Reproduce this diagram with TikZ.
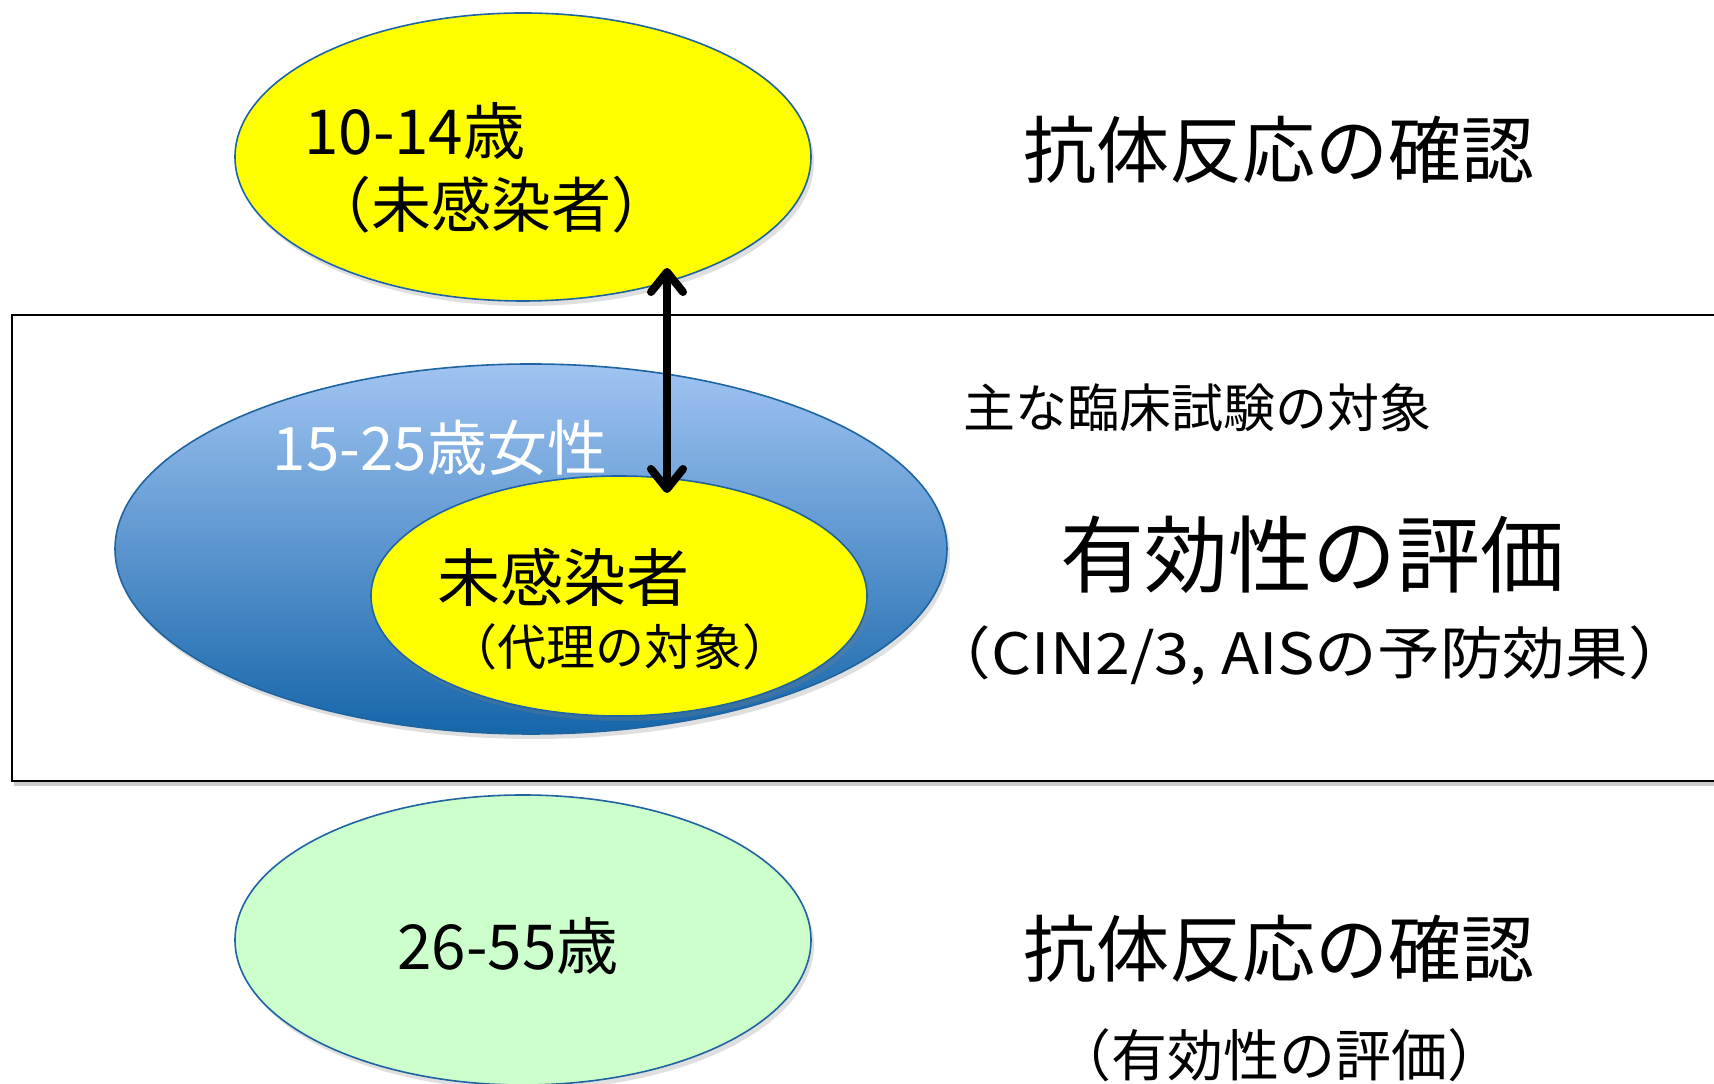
\documentclass[tikz,border=0pt]{standalone}
\usepackage{fontspec}
\setmainfont{Noto Sans CJK JP}
\usetikzlibrary{shapes.geometric,arrows.meta,shadows}
\definecolor{edgeblue}{RGB}{30,100,160}
\definecolor{lightblue}{RGB}{160,196,242}
\definecolor{deepblue}{RGB}{22,102,170}
\definecolor{paleg}{RGB}{204,255,204}
\definecolor{pureyellow}{RGB}{255,255,0}
\begin{document}
\begin{tikzpicture}[x=1pt,y=1pt,
  oval/.style={ellipse, draw=edgeblue, line width=1.6pt, inner sep=0pt,
     drop shadow={shadow xshift=3pt, shadow yshift=-5pt, opacity=0.25}},
  lbl/.style={inner sep=0pt, text=black},
  fs/.style={font=\fontsize{#1}{#1}\selectfont},
  barb/.tip={Straight Barb[length=20pt,width=32pt,line width=8pt,round]}]
\useasboundingbox (0,0) rectangle (1714,1084);
\fill[white] (0,0) rectangle (1714,1084);
% frame
\fill[gray!40] (14,298) rectangle (1730,302);
\node[draw=black, line width=1.8pt, fill=white, minimum width=1719pt, minimum height=466pt, anchor=south west, inner sep=0pt] (frame) at (11,302) {};
% ellipses
\node[oval, minimum width=576pt, minimum height=288pt, fill=pureyellow] (top) at (523,927) {};
\node[oval, minimum width=832pt, minimum height=370pt, top color=lightblue, bottom color=deepblue] (blue) at (531,535) {};
\node[oval, minimum width=496pt, minimum height=240pt, fill=pureyellow] (inner) at (619,488) {};
\node[oval, minimum width=576pt, minimum height=290pt, fill=paleg] (bottom) at (523,144) {};
% arrow
\coordinate (a1) at (667,816);
\coordinate (a2) at (667,591);
\draw[black, line width=8pt, barb-barb] (a1) -- (a2);
% texts
\node[lbl, fs=62, anchor=west] (t1) at (304,953) {10-14歳};
\node[lbl, fs=60] (t2) at (491,879) {（未感染者）};
\node[lbl, fs=73] (r1) at (1279,934) {抗体反応の確認};
\node[lbl, fs=52] (r2) at (1197,676) {主な臨床試験の対象};
\node[lbl, fs=84] (r3) at (1312,529) {有効性の評価};
\node[lbl, fs=57, xscale=1.1] (r4) at (1310,428) {（CIN2/3, AISの予防効果）};
\node[lbl, fs=60, text=white] (b1) at (440,636) {15-25歳女性};
\node[lbl, fs=63] (i1) at (563,507) {未感染者};
\node[lbl, fs=49] (i2) at (620,437) {（代理の対象）};
\node[lbl, fs=62] (g1) at (508,138) {26-55歳};
\node[lbl, fs=73] (r5) at (1279,135) {抗体反応の確認};
\node[lbl, fs=56] (r6) at (1279,29) {（有効性の評価）};
\end{tikzpicture}
\end{document}
